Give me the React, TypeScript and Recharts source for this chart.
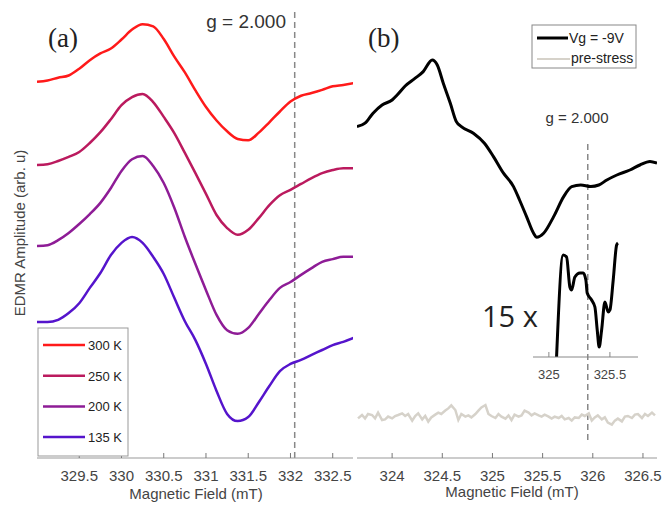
import React from 'react';
import { LineChart, Line, XAxis, YAxis, ReferenceLine } from 'recharts';

// panel (a): temperature series on a shared field grid (mT)
const fieldA = [
  329.0, 329.125, 329.25, 329.375, 329.5, 329.625, 329.75, 329.875, 330.0, 330.125, 330.25,
  330.375, 330.5, 330.625, 330.75, 330.875, 331.0, 331.125, 331.25, 331.375, 331.5, 331.625,
  331.75, 331.875, 332.0, 332.125, 332.25, 332.375, 332.5, 332.625, 332.75,
];
const amp300 = [
  8.36, 8.39, 8.45, 8.5, 8.65, 8.84, 8.99, 9.1, 9.3, 9.52, 9.64, 9.59, 9.31, 8.92, 8.57, 8.17,
  7.8, 7.5, 7.26, 7.09, 7.06, 7.23, 7.46, 7.7, 7.92, 8.05, 8.11, 8.18, 8.26, 8.29, 8.33,
];
const amp250 = [
  6.51, 6.53, 6.6, 6.69, 6.8, 7.0, 7.24, 7.53, 7.84, 8.02, 8.09, 7.91, 7.58, 7.22, 6.78, 6.33,
  5.87, 5.4, 5.11, 4.96, 5.07, 5.33, 5.62, 5.84, 5.96, 6.09, 6.22, 6.33, 6.4, 6.44, 6.44,
];
const amp200 = [
  4.71, 4.73, 4.84, 5.0, 5.2, 5.42, 5.67, 6.0, 6.38, 6.64, 6.71, 6.49, 6.11, 5.56, 4.91, 4.31,
  3.73, 3.18, 2.84, 2.76, 2.89, 3.2, 3.51, 3.78, 3.91, 4.07, 4.22, 4.36, 4.42, 4.47, 4.47,
];
const amp135 = [
  3.02, 3.02, 3.07, 3.22, 3.44, 3.78, 4.11, 4.51, 4.78, 4.91, 4.78, 4.47, 4.09, 3.56, 3.04, 2.62,
  2.09, 1.49, 0.98, 0.82, 0.91, 1.24, 1.6, 1.93, 2.09, 2.18, 2.29, 2.4, 2.51, 2.58, 2.67,
];
const ticksA = [329.5, 330, 330.5, 331, 331.5, 332, 332.5];

// panel (b): Vg = -9V trace
const vgField = [
  323.65, 323.73, 323.81, 323.9, 324.0, 324.05, 324.13, 324.23, 324.31, 324.4, 324.45, 324.51,
  324.58, 324.64, 324.69, 324.81, 324.92, 325.01, 325.11, 325.21, 325.27, 325.34, 325.41, 325.44,
  325.51, 325.61, 325.71, 325.79, 325.88, 325.98, 326.06, 326.14, 326.24, 326.37, 326.47, 326.57,
  326.64,
];
const vgAmp = [
  16.57, 16.74, 17.24, 17.65, 17.9, 18.15, 18.6, 18.99, 19.32, 19.9, 19.65, 18.74, 17.74, 16.82,
  16.57, 16.24, 15.74, 15.07, 14.24, 13.57, 12.9, 12.07, 11.24, 11.04, 11.24, 12.07, 13.07, 13.57,
  13.65, 13.57, 13.65, 13.9, 14.15, 14.4, 14.65, 14.82, 14.74,
];

// pre-stress (noise only)
const preField = [
  323.66, 323.7, 323.73, 323.76, 323.8, 323.83, 323.86, 323.9, 323.93, 323.96,
  324.0, 324.03, 324.06, 324.1, 324.13, 324.16, 324.2, 324.23, 324.26, 324.3,
  324.33, 324.36, 324.39, 324.43, 324.46, 324.49, 324.53, 324.56, 324.59, 324.63,
  324.66, 324.69, 324.73, 324.76, 324.79, 324.83, 324.86, 324.89, 324.93, 324.96,
  324.99, 325.03, 325.06, 325.09, 325.13, 325.16, 325.19, 325.22, 325.26, 325.29,
  325.32, 325.36, 325.39, 325.42, 325.46, 325.49, 325.52, 325.56, 325.59, 325.62,
  325.66, 325.69, 325.72, 325.76, 325.79, 325.82, 325.86, 325.89, 325.92, 325.96,
  325.99, 326.02, 326.05, 326.09, 326.12, 326.15, 326.19, 326.22, 326.25, 326.29,
  326.32, 326.35, 326.39, 326.42, 326.45, 326.49, 326.52, 326.55, 326.59, 326.62,
];
const preAmp = [
  1.98, 2.15, 1.98, 2.2, 2.15, 1.98, 2.27, 1.9, 1.93, 2.07,
  1.98, 2.1, 2.15, 2.23, 2.1, 2.2, 1.87, 2.1, 2.23, 1.93,
  2.1, 1.82, 2.03, 2.17, 2.27, 2.2, 2.37, 2.48, 2.63, 2.4,
  1.9, 2.2, 2.07, 2.13, 2.03, 2.2, 2.37, 2.53, 2.65, 2.2,
  2.1, 2.0, 2.2, 2.07, 1.97, 2.13, 1.9, 2.17, 2.07, 2.13,
  2.37, 2.27, 2.13, 2.23, 2.13, 2.07, 2.17, 2.07, 1.97, 2.07,
  2.0, 2.1, 1.93, 2.0, 1.87, 2.03, 2.0, 2.17, 2.1, 2.23,
  1.87, 2.03, 2.13, 1.93, 2.03, 1.77, 1.67, 1.87, 1.97, 1.83,
  2.07, 2.1, 2.0, 2.17, 2.2, 2.0, 2.2, 2.1, 2.27, 2.13,
];
const ticksB = [324, 324.5, 325, 325.5, 326, 326.5];

// 15x inset
const insetField = [
  325.063, 325.117, 325.145, 325.172, 325.186, 325.213, 325.254, 325.281, 325.303, 325.314,
  325.35, 325.377, 325.396, 325.412, 325.432, 325.459, 325.486, 325.5, 325.527, 325.555, 325.566,
];
const insetAmp = [
  0, 1.02, 1.0, 0.7, 0.67, 0.8, 0.84, 0.84, 0.77, 0.64, 0.57, 0.5, 0.27, 0.1, 0.27, 0.55, 0.45,
  0.47, 0.77, 1.12, 1.14,
];
const ticksInset = [325, 325.5];

const gLineA = 332.05;
const gLineB = 325.95;

const series = [
  { key: 't300', name: '300 K', color: '#ff1a1a', values: amp300 },
  { key: 't250', name: '250 K', color: '#bb1a5e', values: amp250 },
  { key: 't200', name: '200 K', color: '#8e1c96', values: amp200 },
  { key: 't135', name: '135 K', color: '#5514cc', values: amp135 },
];

const rowsA = fieldA.map((f, i) => {
  const row: Record<string, number> = { field: f };
  series.forEach((s) => (row[s.key] = s.values[i]));
  return row;
});
const vgRows = vgField.map((x, i) => ({ x, y: vgAmp[i] }));
const preRows = preField.map((x, i) => ({ x, y: preAmp[i] }));
const insetRows = insetField.map((x, i) => ({ x, y: insetAmp[i] }));

const SANS = '"Liberation Sans", Arial, sans-serif';
const tickStyle = { fill: '#444', fontSize: 15, fontFamily: SANS };

export default function App() {
  return (
    <div style={{ position: 'absolute', left: 0, top: 0, width: 671, height: 506, background: '#fff', fontFamily: SANS }}>
      <div style={{ position: 'absolute', left: 0, top: 0 }}>
        <LineChart width={360} height={506} data={rowsA} margin={{ top: 8, right: 7, left: 37, bottom: 18 }}>
          <XAxis
            type="number"
            dataKey="field"
            domain={[329.0, 332.74]}
            allowDataOverflow
            ticks={ticksA}
            tickSize={-5}
            tickMargin={17}
            height={30}
            tick={tickStyle}
            axisLine={{ stroke: '#999' }}
            tickLine={{ stroke: '#777' }}
          />
          <YAxis type="number" domain={[0, 10]} width={0} tick={false} tickLine={false} axisLine={{ stroke: '#999' }} />
          <ReferenceLine x={gLineA} stroke="#888" strokeWidth={1.5} strokeDasharray="6 4" />
          {series.map((s) => (
            <Line key={s.key} type="monotone" dataKey={s.key} stroke={s.color} strokeWidth={2.5} dot={false} isAnimationActive={false} />
          ))}
        </LineChart>
      </div>

      <div style={{ position: 'absolute', left: 350, top: 0 }}>
        <LineChart width={321} height={506} margin={{ top: 20, right: 14, left: 7, bottom: 18 }}>
          <XAxis
            type="number"
            dataKey="x"
            domain={[323.65, 326.64]}
            allowDataOverflow
            ticks={ticksB}
            tickSize={-5}
            tickMargin={17}
            height={30}
            tick={tickStyle}
            axisLine={{ stroke: '#999' }}
            tickLine={{ stroke: '#777' }}
          />
          <YAxis type="number" domain={[0, 21.9]} width={0} tick={false} tickLine={false} axisLine={{ stroke: '#aaa' }} />
          <ReferenceLine
            segment={[{ x: gLineB, y: 0.9 }, { x: gLineB, y: 15.8 }]}
            stroke="#888"
            strokeWidth={1.5}
            strokeDasharray="6 4"
          />
          <Line data={preRows} type="linear" dataKey="y" stroke="#d6d2ca" strokeWidth={2.5} dot={false} isAnimationActive={false} />
          <Line data={vgRows} type="monotone" dataKey="y" stroke="#000" strokeWidth={3} dot={false} isAnimationActive={false} />
        </LineChart>
      </div>

      <div style={{ position: 'absolute', left: 533, top: 240 }}>
        <LineChart width={105} height={147} margin={{ top: 0, right: 0, left: 0, bottom: 0 }}>
          <XAxis
            type="number"
            dataKey="x"
            domain={[324.87, 325.73]}
            allowDataOverflow
            ticks={ticksInset}
            tickSize={-5}
            tickMargin={18}
            height={30}
            tick={{ fill: '#444', fontSize: 13, fontFamily: SANS }}
            axisLine={{ stroke: '#888' }}
            tickLine={{ stroke: '#888' }}
          />
          <YAxis type="number" domain={[0, 1.17]} hide width={0} />
          <Line data={insetRows} type="monotone" dataKey="y" stroke="#000" strokeWidth={3} dot={false} isAnimationActive={false} />
        </LineChart>
      </div>

      <svg width={671} height={506} style={{ position: 'absolute', left: 0, top: 0, pointerEvents: 'none' }}>
        <text x={48} y={47} fontFamily='"Liberation Serif", "Times New Roman", serif' fontSize={27} fill="#222">(a)</text>
        <text x={368} y={47} fontFamily='"Liberation Serif", "Times New Roman", serif' fontSize={27} fill="#222">(b)</text>
        <text x={286} y={28} textAnchor="end" fontSize={19} fill="#333">g = 2.000</text>
        <text x={577} y={123} textAnchor="middle" fontSize={15} fill="#333">g = 2.000</text>
        <text x={482} y={327} fontFamily='"Open Sans", sans-serif' fontSize={29} fill="#222">15 x</text>
        <text transform="translate(25,233) rotate(-90)" textAnchor="middle" fontSize={15} fill="#444">
          EDMR Amplitude (arb. u)
        </text>
        <text x={196} y={499} textAnchor="middle" fontSize={15} fill="#444">Magnetic Field (mT)</text>
        <text x={512} y={497} textAnchor="middle" fontSize={15} fill="#444">Magnetic Field (mT)</text>

        <rect x={38} y={328} width={90} height={128} fill="#fff" stroke="#999" />
        {series.map((s, i) => (
          <g key={s.key}>
            <line x1={43} x2={85} y1={345 + i * 30.7} y2={345 + i * 30.7} stroke={s.color} strokeWidth={2.5} />
            <text x={88} y={350 + i * 30.7} fontSize={13} fill="#222">{s.name}</text>
          </g>
        ))}

        <rect x={532} y={25} width={104} height={43} fill="#fff" stroke="#888" />
        <line x1={537} x2={568} y1={38} y2={38} stroke="#000" strokeWidth={3} />
        <text x={569} y={43} fontSize={14} fill="#222">Vg = -9V</text>
        <line x1={537} x2={570} y1={59} y2={59} stroke="#d6d2ca" strokeWidth={2} />
        <text x={571} y={63} fontSize={14} fill="#222">pre-stress</text>
      </svg>
    </div>
  );
}
